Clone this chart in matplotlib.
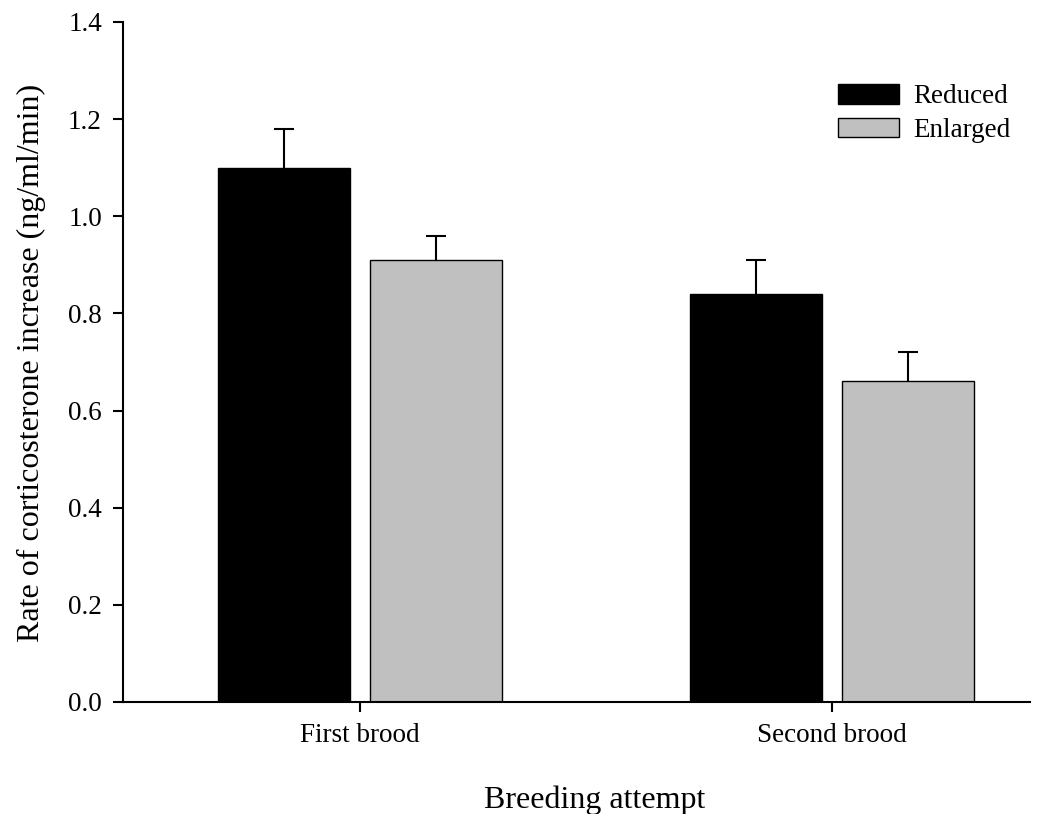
import numpy as np
import matplotlib
matplotlib.use('Agg')
import matplotlib.pyplot as plt

plt.rcParams['font.family'] = ['Liberation Serif', 'DejaVu Serif']

# data
groups = ['First brood', 'Second brood']
reduced = [1.10, 0.84]
reduced_se = [0.08, 0.07]
enlarged = [0.91, 0.66]
enlarged_se = [0.05, 0.06]

x = np.arange(len(groups))
w = 0.28
off = 0.161

f = plt.figure(figsize=(10.58, 8.14), dpi=100)
ax = f.add_axes([0.1163, 0.1376, 0.9735 - 0.1163, 0.973 - 0.1376])

ax.bar(x - off, reduced, w, color='black', edgecolor='black', linewidth=1,
       label='Reduced', zorder=2)
ax.bar(x + off, enlarged, w, color='#c0c0c0', edgecolor='black', linewidth=1,
       label='Enlarged', zorder=2)

# upper error bars only
for xs, ys, es in [(x - off, reduced, reduced_se), (x + off, enlarged, enlarged_se)]:
    _, caps, _ = ax.errorbar(xs, ys, yerr=[np.zeros(len(es)), es], fmt='none',
                             ecolor='black', elinewidth=1.5, capsize=7.2,
                             capthick=1.5, zorder=1)
    caps[0].set_visible(False)

ax.set_xlim(-0.502, 1.419)
ax.set_ylim(0, 1.4)
ax.set_yticks(np.arange(0, 1.41, 0.2))
ax.set_yticklabels(['%.1f' % v for v in np.arange(0, 1.41, 0.2)])
ax.set_xticks(x)
ax.set_xticklabels(groups)
ax.tick_params(axis='both', direction='out', length=7.2, width=1.5, labelsize=19.5, pad=8)

ax.spines['right'].set_visible(False)
ax.spines['top'].set_visible(False)
ax.spines['left'].set_linewidth(1.5)
ax.spines['bottom'].set_linewidth(1.5)

ax.set_ylabel('Rate of corticosterone increase (ng/ml/min)', fontsize=23)
ax.yaxis.set_label_coords(-0.085, 0.498)
ax.set_xlabel('Breeding attempt', fontsize=23)
ax.xaxis.set_label_coords(0.52, -0.123)

ax.legend(loc='upper left', bbox_to_anchor=(0.788, 0.909), frameon=False, fontsize=19.5,
          handlelength=2.26, handleheight=0.74, handletextpad=0.52, labelspacing=0.32,
          borderaxespad=0, borderpad=0)

f.savefig('out.png', dpi=100)
